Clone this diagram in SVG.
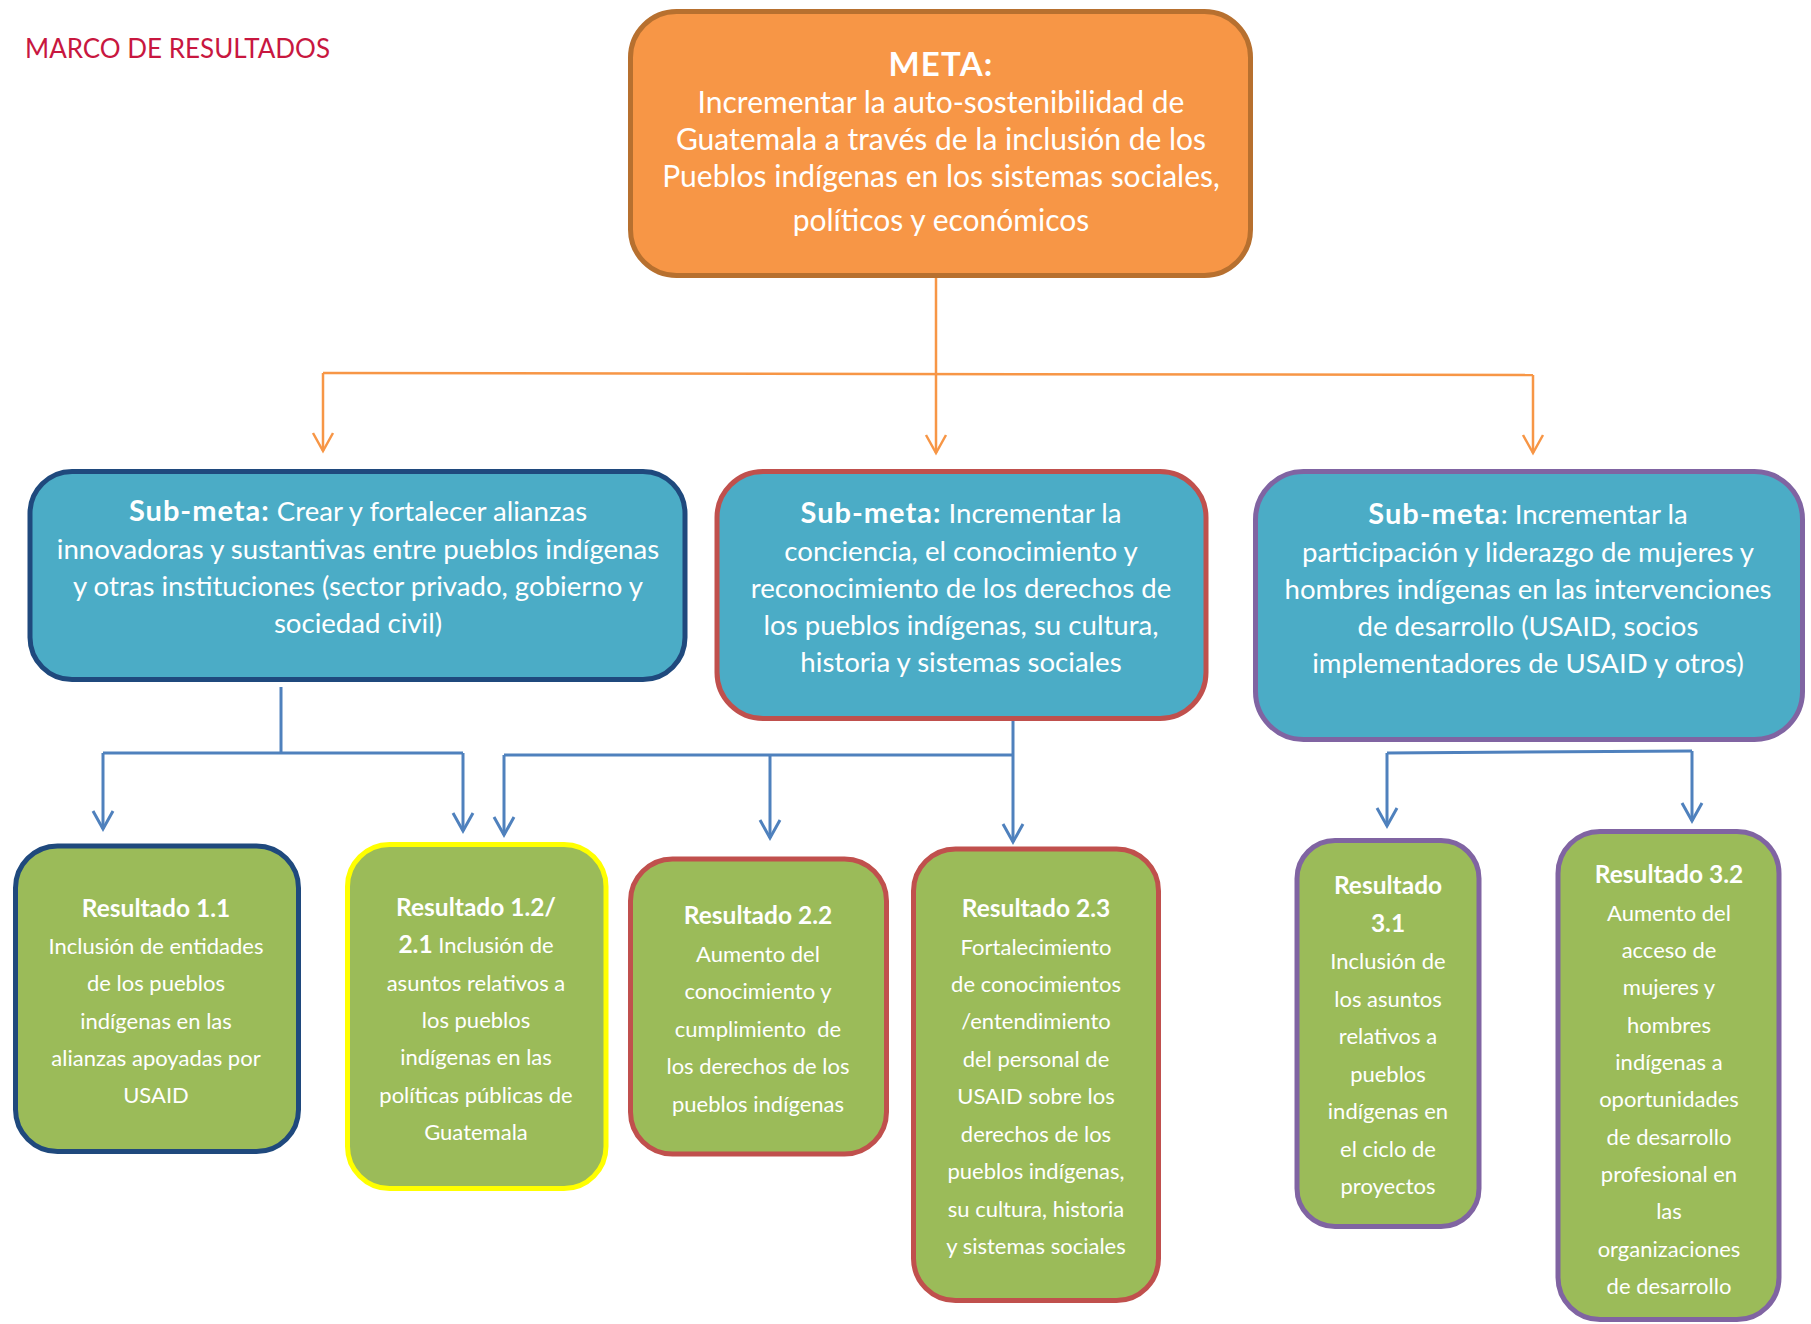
<svg xmlns="http://www.w3.org/2000/svg" width="1811" height="1324" viewBox="0 0 1811 1324">
<style>
text { font-family: "Lato", "Open Sans", "DejaVu Sans", sans-serif; fill: #FFFFFF; text-anchor: middle; }
.title { fill: #C8173F; text-anchor: start; font-size: 26px; }
.meta { font-size: 30px; }
.metab { font-size: 33px; font-weight: bold; letter-spacing: 1.2px; }
.sub { font-size: 27.6px; }
.subb { font-size: 29px; font-weight: bold; letter-spacing: 1px; }
.res { font-size: 22px; }
.resb { font-size: 24.5px; font-weight: bold; }
.box { stroke-width: 5; }
.orange { fill: #F79646; stroke: #B7702F; }
.teal { fill: #4BACC6; }
.green { fill: #9BBB59; }
.sdark { stroke: #1F497D; }
.sred { stroke: #C0504D; }
.spurple { stroke: #8064A2; }
.syellow { stroke: #FFFF00; }
.co { fill: none; stroke: #F79646; stroke-width: 2.5; }
.cb { fill: none; stroke: #4F81BD; stroke-width: 3; }
</style>
<defs>
<marker id="arrO" markerUnits="userSpaceOnUse" markerWidth="40" markerHeight="40" refX="0" refY="0" orient="auto" overflow="visible">
<path d="M-18,-10 L0,0 L-18,10" fill="none" stroke="#F79646" stroke-width="2.5"/>
</marker>
<marker id="arrB" markerUnits="userSpaceOnUse" markerWidth="40" markerHeight="40" refX="0" refY="0" orient="auto" overflow="visible">
<path d="M-18,-10 L0,0 L-18,10" fill="none" stroke="#4F81BD" stroke-width="3"/>
</marker>
</defs>
<rect width="1811" height="1324" fill="#FFFFFF"/>
<text class="title" x="25" y="58">MARCO DE RESULTADOS</text>

<g id="connectors">
<path class="co" d="M936,278 V453" marker-end="url(#arrO)"/>
<path class="co" d="M323,373 L1533,375"/>
<path class="co" d="M323,373 V451" marker-end="url(#arrO)"/>
<path class="co" d="M1533,375 V453" marker-end="url(#arrO)"/>
<path class="cb" d="M281,687 V753"/>
<path class="cb" d="M103,753 H463"/>
<path class="cb" d="M103,753 V829" marker-end="url(#arrB)"/>
<path class="cb" d="M463,753 V831" marker-end="url(#arrB)"/>
<path class="cb" d="M1013,720 V842" marker-end="url(#arrB)"/>
<path class="cb" d="M504,755 H1013"/>
<path class="cb" d="M504,755 V835" marker-end="url(#arrB)"/>
<path class="cb" d="M770,755 V838" marker-end="url(#arrB)"/>
<path class="cb" d="M1387,753 L1692,751"/>
<path class="cb" d="M1387,753 V826" marker-end="url(#arrB)"/>
<path class="cb" d="M1692,751 V821" marker-end="url(#arrB)"/>
</g>

<g id="meta">
<rect class="box orange" x="630.5" y="11.5" width="620" height="264" rx="46"/>
<text class="metab" x="941" y="76">META:</text>
<text class="meta" x="941" y="113">Incrementar la auto-sostenibilidad de</text>
<text class="meta" x="941" y="150">Guatemala a través de la inclusión de los</text>
<text class="meta" x="941" y="187">Pueblos indígenas en los sistemas sociales,</text>
<text class="meta" x="941" y="231">políticos y económicos</text>
</g>

<g id="submeta1">
<rect class="box teal sdark" x="30" y="471.5" width="655" height="208" rx="42"/>
<text class="sub" x="358" y="521"><tspan class="subb">Sub-meta:</tspan> Crear y fortalecer alianzas</text>
<text class="sub" x="358" y="558.5">innovadoras y sustantivas entre pueblos indígenas</text>
<text class="sub" x="358" y="596">y otras instituciones (sector privado, gobierno y</text>
<text class="sub" x="358" y="633">sociedad civil)</text>
</g>

<g id="submeta2">
<rect class="box teal sred" x="717" y="471.5" width="489" height="247" rx="46"/>
<text class="sub" x="961" y="523"><tspan class="subb">Sub-meta:</tspan> Incrementar la</text>
<text class="sub" x="961" y="560.5">conciencia, el conocimiento y</text>
<text class="sub" x="961" y="598">reconocimiento de los derechos de</text>
<text class="sub" x="961" y="635">los pueblos indígenas, su cultura,</text>
<text class="sub" x="961" y="672">historia y sistemas sociales</text>
</g>

<g id="submeta3">
<rect class="box teal spurple" x="1255.5" y="471.5" width="547" height="268" rx="48"/>
<text class="sub" x="1528" y="524"><tspan class="subb">Sub-meta</tspan>: Incrementar la</text>
<text class="sub" x="1528" y="561.5">participación y liderazgo de mujeres y</text>
<text class="sub" x="1528" y="599">hombres indígenas en las intervenciones</text>
<text class="sub" x="1528" y="636">de desarrollo (USAID, socios</text>
<text class="sub" x="1528" y="673">implementadores de USAID y otros)</text>
</g>

<g id="resultado11">
<rect class="box green sdark" x="15.5" y="846" width="283" height="305.5" rx="42"/>
<text class="resb" x="156" y="917">Resultado 1.1</text>
<text class="res" x="156" y="954">Inclusión de entidades</text>
<text class="res" x="156" y="991">de los pueblos</text>
<text class="res" x="156" y="1028.5">indígenas en las</text>
<text class="res" x="156" y="1066">alianzas apoyadas por</text>
<text class="res" x="156" y="1103">USAID</text>
</g>

<g id="resultado12">
<rect class="box green syellow" x="347.5" y="844.5" width="258.5" height="344" rx="42"/>
<text class="resb" x="476" y="916">Resultado 1.2/</text>
<text class="res" x="476" y="953"><tspan class="resb">2.1</tspan> Inclusión de</text>
<text class="res" x="476" y="990.5">asuntos relativos a</text>
<text class="res" x="476" y="1028">los pueblos</text>
<text class="res" x="476" y="1065">indígenas en las</text>
<text class="res" x="476" y="1102.5">políticas públicas de</text>
<text class="res" x="476" y="1140">Guatemala</text>
</g>

<g id="resultado22">
<rect class="box green sred" x="630.5" y="859" width="256" height="295" rx="42"/>
<text class="resb" x="758" y="924">Resultado 2.2</text>
<text class="res" x="758" y="961.5">Aumento del</text>
<text class="res" x="758" y="999">conocimiento y</text>
<text class="res" x="758" y="1036.5">cumplimiento&#160; de</text>
<text class="res" x="758" y="1074">los derechos de los</text>
<text class="res" x="758" y="1111.5">pueblos indígenas</text>
</g>

<g id="resultado23">
<rect class="box green sred" x="913.5" y="849" width="245" height="451.5" rx="42"/>
<text class="resb" x="1036" y="917">Resultado 2.3</text>
<text class="res" x="1036" y="954.5">Fortalecimiento</text>
<text class="res" x="1036" y="992">de conocimientos</text>
<text class="res" x="1036" y="1029">/entendimiento</text>
<text class="res" x="1036" y="1066.5">del personal de</text>
<text class="res" x="1036" y="1104">USAID sobre los</text>
<text class="res" x="1036" y="1141.5">derechos de los</text>
<text class="res" x="1036" y="1179">pueblos indígenas,</text>
<text class="res" x="1036" y="1216.5">su cultura, historia</text>
<text class="res" x="1036" y="1254">y sistemas sociales</text>
</g>

<g id="resultado31">
<rect class="box green spurple" x="1297" y="840.5" width="182" height="386" rx="38"/>
<text class="resb" x="1388" y="894">Resultado</text>
<text class="resb" x="1388" y="931.5">3.1</text>
<text class="res" x="1388" y="969">Inclusión de</text>
<text class="res" x="1388" y="1006.5">los asuntos</text>
<text class="res" x="1388" y="1044">relativos a</text>
<text class="res" x="1388" y="1081.5">pueblos</text>
<text class="res" x="1388" y="1119">indígenas en</text>
<text class="res" x="1388" y="1156.5">el ciclo de</text>
<text class="res" x="1388" y="1194">proyectos</text>
</g>

<g id="resultado32">
<rect class="box green spurple" x="1558" y="831.5" width="221" height="488" rx="42"/>
<text class="resb" x="1669" y="883">Resultado 3.2</text>
<text class="res" x="1669" y="920.5">Aumento del</text>
<text class="res" x="1669" y="958">acceso de</text>
<text class="res" x="1669" y="995">mujeres y</text>
<text class="res" x="1669" y="1032.5">hombres</text>
<text class="res" x="1669" y="1070">indígenas a</text>
<text class="res" x="1669" y="1107">oportunidades</text>
<text class="res" x="1669" y="1144.5">de desarrollo</text>
<text class="res" x="1669" y="1182">profesional en</text>
<text class="res" x="1669" y="1219">las</text>
<text class="res" x="1669" y="1256.5">organizaciones</text>
<text class="res" x="1669" y="1294">de desarrollo</text>
</g>
</svg>
